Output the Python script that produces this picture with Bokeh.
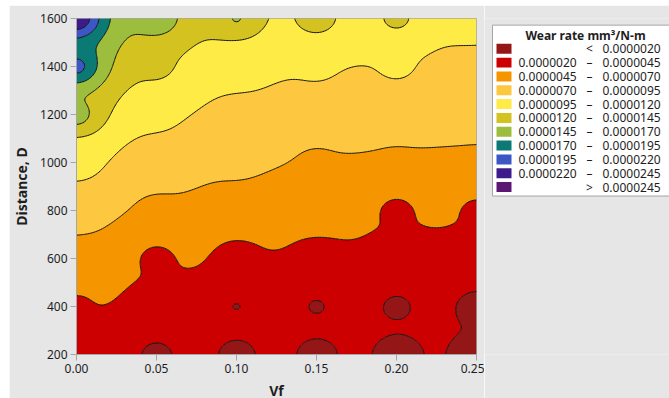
import numpy as np
from bokeh.plotting import figure
from bokeh.models import Range1d, FixedTicker, NumeralTickFormatter
from bokeh.layouts import row
from bokeh.embed import file_html
from bokeh.resources import INLINE
from bokeh.core.properties import value

# Measured wear rate (mm^3/N-m) on the Vf x sliding-distance grid
vf = [0.00, 0.05, 0.10, 0.15, 0.20, 0.25]
distance = [200, 400, 600, 800, 1000, 1200, 1400, 1600]
wear_d200 = [2.8e-6, 1.3e-6, 1.15e-6, 1.15e-6, 0.95e-6, 0.8e-6]
wear_d400 = [4.2e-6, 2.8e-6, 1.95e-6, 1.8e-6, 1.5e-6, 1.0e-6]
wear_d600 = [6.2e-6, 3.8e-6, 3.3e-6, 3.2e-6, 3.0e-6, 3.0e-6]
wear_d800 = [8.2e-6, 6.5e-6, 5.3e-6, 5.3e-6, 3.9e-6, 4.1e-6]
wear_d1000 = [10.7e-6, 8.0e-6, 7.5e-6, 6.6e-6, 6.7e-6, 6.8e-6]
wear_d1200 = [15.5e-6, 10.0e-6, 8.8e-6, 8.5e-6, 8.5e-6, 8.0e-6]
wear_d1400 = [20.2e-6, 12.5e-6, 10.8e-6, 9.9e-6, 9.9e-6, 9.2e-6]
wear_d1600 = [24.0e-6, 16.4e-6, 14.6e-6, 13.3e-6, 12.6e-6, 11.0e-6]
wear_rows = [wear_d200, wear_d400, wear_d600, wear_d800,
             wear_d1000, wear_d1200, wear_d1400, wear_d1600]

# Contour levels and band colours
levels = [0.0000020, 0.0000045, 0.0000070, 0.0000095, 0.0000120,
          0.0000145, 0.0000170, 0.0000195, 0.0000220, 0.0000245]
band_colors = ["#951616", "#cc0000", "#f59500", "#fdc73f", "#ffeb45",
               "#d3c21f", "#9dbd3d", "#0b7a74", "#3b57c6", "#3e1b8c", "#5b1872"]

x_ticks = [0.00, 0.05, 0.10, 0.15, 0.20, 0.25]
y_ticks = [200, 400, 600, 800, 1000, 1200, 1400, 1600]

GRAY = "#e6e6e6"
FONT = "Noto Sans"
PANEL_H = 405  # canvas height shared by plot and legend panel

# Inverse-distance surface on a fine mesh (axes scaled to unit range)
gx = np.linspace(0.0, 0.25, 251)
gy = np.linspace(200.0, 1600.0, 281)
GX, GY = np.meshgrid(gx, gy)
px, py = np.meshgrid(np.array(vf), np.array(distance))
pz = np.array(wear_rows).ravel()
pu = (px.ravel() - vf[0]) / (vf[-1] - vf[0])
pv = (py.ravel() - distance[0]) / (distance[-1] - distance[0])
U = (GX - vf[0]) / (vf[-1] - vf[0])
V = (GY - distance[0]) / (distance[-1] - distance[0])
d2 = (U[..., None] - pu) ** 2 + (V[..., None] - pv) ** 2
w = 1.0 / np.maximum(d2, 1e-14)
Z = (w * pz).sum(axis=-1) / w.sum(axis=-1)

p = figure(title=None, width=67 + 400 + 8, height=PANEL_H,
           x_range=Range1d(0, 0.25), y_range=Range1d(200, 1600),
           toolbar_location=None, output_backend="svg",
           min_border_left=67, min_border_right=8,
           min_border_top=13, min_border_bottom=PANEL_H - 13 - 336)
p.background_fill_color = "white"
p.border_fill_color = GRAY
p.outline_line_color = "#a6a6a6"
p.grid.visible = False
p.align = "start"

all_levels = [0.0] + levels + [1.0e-4]
p.contour(gx, gy, Z, all_levels, fill_color=band_colors,
          line_color="#111111", line_width=1)

p.xaxis.ticker = FixedTicker(ticks=x_ticks)
p.yaxis.ticker = FixedTicker(ticks=y_ticks)
p.xaxis.formatter = NumeralTickFormatter(format="0.00")
p.yaxis.formatter = NumeralTickFormatter(format="0")
for ax in (p.xaxis, p.yaxis):
    ax.axis_line_color = "#a6a6a6"
    ax.major_tick_line_color = "#a6a6a6"
    ax.major_tick_out = 6
    ax.major_tick_in = 0
    ax.minor_tick_line_color = None
    ax.major_label_text_font = FONT
    ax.major_label_text_font_size = "12px"
    ax.major_label_text_color = "#1e1e1e"
    ax.axis_label_text_font = FONT
    ax.axis_label_text_font_style = "bold"
    ax.axis_label_text_font_size = "14px"
    ax.axis_label_text_color = "#1e1e1e"
p.xaxis.axis_label = "Vf"
p.yaxis.axis_label = "Distance, D"
p.xaxis.major_label_standoff = 3
p.yaxis.major_label_standoff = 3
p.xaxis.axis_label_standoff = 5
p.yaxis.axis_label_standoff = 6

# Legend panel (coordinates in canvas pixels, y downward)
leg = figure(title=None, width=185, height=PANEL_H,
             x_range=Range1d(0, 185), y_range=Range1d(PANEL_H, 0),
             toolbar_location=None, output_backend="svg",
             x_axis_location=None, y_axis_location=None, min_border=0)
leg.grid.visible = False
leg.outline_line_color = None
leg.background_fill_color = GRAY
leg.border_fill_color = GRAY
leg.align = "start"

leg.quad(left=[8], right=[200], top=[8], bottom=[214],
         fill_color="white", line_color="#a6a6a6", line_width=1)
leg.text(x=[101], y=[20], text=["Wear rate mm³/N-m"],
         text_font=value(FONT), text_font_style="bold", text_font_size="12px",
         text_align="center", text_baseline="middle", text_color="#1e1e1e")

n = len(band_colors)
row_y = [36.5 + 16.67 * i for i in range(n)]
left_txt, mid_txt, right_txt = [], [], []
for i in range(n):
    if i == 0:
        left_txt.append(""); mid_txt.append("<"); right_txt.append(f"{levels[0]:.7f}")
    elif i == n - 1:
        left_txt.append(""); mid_txt.append(">"); right_txt.append(f"{levels[-1]:.7f}")
    else:
        left_txt.append(f"{levels[i - 1]:.7f}"); mid_txt.append("–"); right_txt.append(f"{levels[i]:.7f}")

leg.rect(x=[19.5] * n, y=row_y, width=15, height=12,
         fill_color=band_colors, line_color=None)
common = dict(text_font=value(FONT), text_font_size="12px",
              text_baseline="middle", text_color="#1e1e1e")
leg.text(x=[34] * n, y=row_y, text=left_txt, text_align="left", **common)
leg.text(x=[105] * n, y=row_y, text=mid_txt, text_align="center", **common)
leg.text(x=[118] * n, y=row_y, text=right_txt, text_align="left", **common)

layout = row(p, leg, margin=(5, 0, 0, 9))
open("out.html", "w").write(file_html(layout, INLINE))
